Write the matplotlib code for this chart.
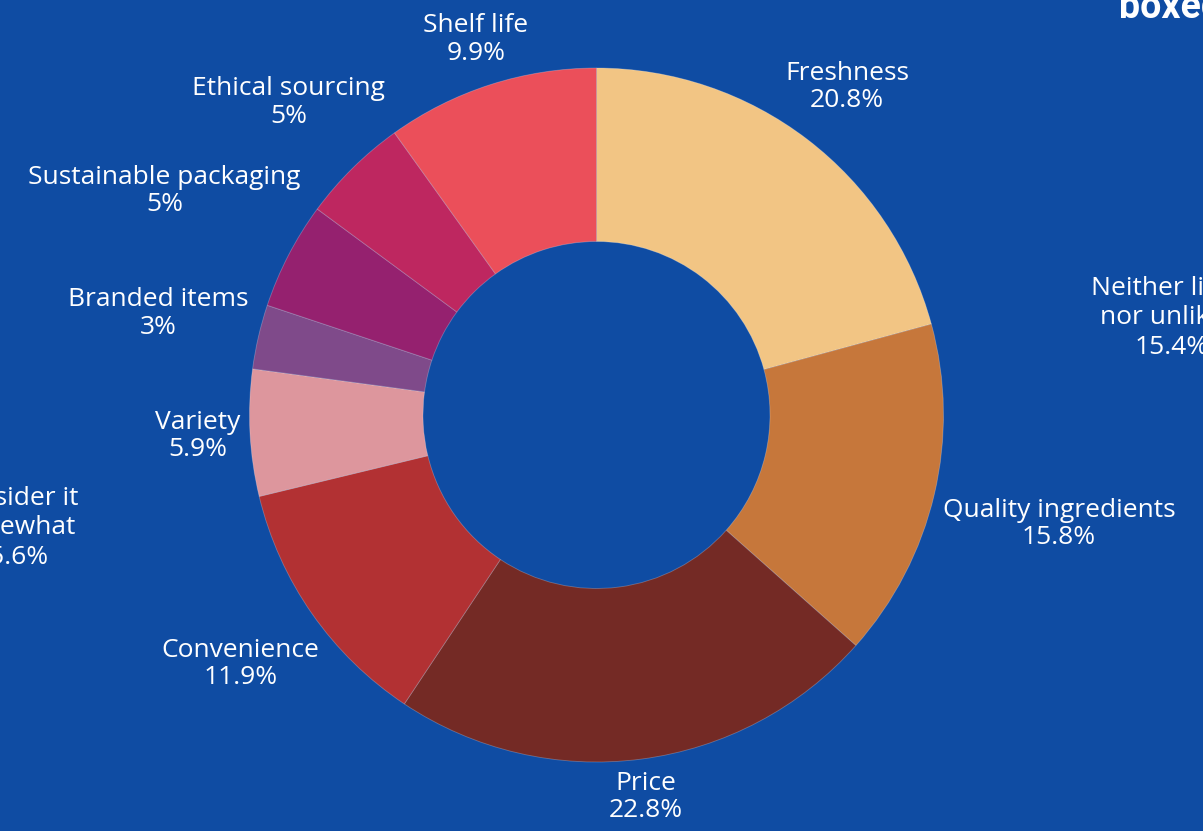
import numpy as np
import matplotlib
matplotlib.use("Agg")
import matplotlib.pyplot as plt

categories = ["Freshness", "Quality ingredients", "Price", "Convenience", "Variety",
              "Branded items", "Sustainable packaging", "Ethical sourcing", "Shelf life"]
values = [20.8, 15.8, 22.8, 11.9, 5.9, 3, 5, 5, 9.9]
value_labels = ["20.8%", "15.8%", "22.8%", "11.9%", "5.9%", "3%", "5%", "5%", "9.9%"]
colors = ["#F2C584", "#C6773B", "#742A25", "#B23133", "#DD969D",
          "#7F4A8A", "#95216F", "#BE2760", "#EB4F5A"]

BG = "#0F4CA3"
W, H = 1203, 831
plt.rcParams['font.family'] = ['Open Sans', 'DejaVu Sans']

fig = plt.figure(figsize=(W / 100, H / 100), dpi=100, facecolor=BG)
ax = fig.add_axes([0, 0, 1, 1])
ax.set_facecolor(BG)

cx, cy, R = 596.5, 831 - 415, 347
ax.pie(values, colors=colors, startangle=90, counterclock=False, center=(cx, cy), radius=R,
       wedgeprops=dict(width=R * 0.5, edgecolor=(1, 1, 1, 0.25), linewidth=0.6),
       frame=True)
ax.set_xlim(0, W)
ax.set_ylim(0, H)
ax.set_aspect('equal')
ax.axis('off')

fig.canvas.draw()
renderer = fig.canvas.get_renderer()
total = sum(values)
cum = 0
gap = 9
FS = 19
for cat, v, vl in zip(categories, values, value_labels):
    mid = 90 - (cum + v / 2) / total * 360
    cum += v
    ang = np.deg2rad(mid)
    ux, uy = np.cos(ang), np.sin(ang)
    t = ax.text(0, 0, f"{cat}\n{vl}", color="white", fontsize=FS, ha="center", va="center",
                linespacing=1.12)
    bb = t.get_window_extent(renderer)
    hw, hh = bb.width / 2, bb.height / 2
    lo, hi = 0, 1000
    for _ in range(60):
        m = (lo + hi) / 2
        px, py = m * ux, m * uy
        nx = max(abs(px) - hw, 0)
        ny = max(abs(py) - hh, 0)
        if np.hypot(nx, ny) < R + gap:
            lo = m
        else:
            hi = m
    t.set_position((cx + hi * ux, cy + hi * uy))

# clipped neighbouring content (cut off at the figure edge, as in the reference)
fig.text(1119 / W, 1 - 18 / H, "boxed", color="white", fontsize=27,
         family=["Roboto", "DejaVu Sans"], fontweight="bold", ha="left", va="baseline")
fig.text(1172 / W, 1 - 318 / H, "Neither likely\nnor unlikely\n15.4%", color="white",
         fontsize=FS, ha="center", va="center", linespacing=1.25)
fig.text(12 / W, 1 - 528 / H, "Consider it\nsomewhat\n15.6%", color="white",
         fontsize=FS, ha="center", va="center", linespacing=1.25)

fig.savefig("out.png", dpi=100, facecolor=BG)
